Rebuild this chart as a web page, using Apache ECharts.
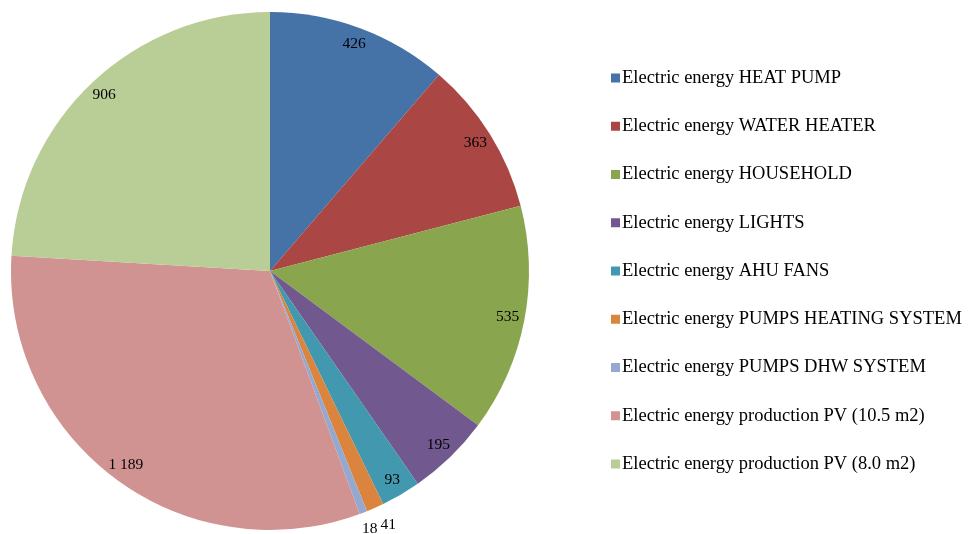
<!DOCTYPE html>
<html>
<head>
<meta charset="utf-8">
<script src="https://cdn.jsdelivr.net/npm/echarts@6/dist/echarts.min.js"></script>
<style>html,body{margin:0;padding:0;background:#fff;}#c{width:973px;height:534px;}</style>
</head>
<body>
<div id="c"></div>
<script>
const categories = [
  'Electric energy HEAT PUMP',
  'Electric energy WATER HEATER',
  'Electric energy HOUSEHOLD',
  'Electric energy LIGHTS',
  'Electric energy AHU FANS',
  'Electric energy PUMPS HEATING SYSTEM',
  'Electric energy PUMPS DHW SYSTEM',
  'Electric energy production PV (10.5 m2)',
  'Electric energy production PV (8.0 m2)'
];
const values = [426, 363, 535, 195, 93, 41, 18, 1189, 906];
const colors = ['#4572A7', '#AA4643', '#89A54E', '#71588F', '#4198AF', '#DB843D', '#93A9CF', '#D19392', '#B9CD96'];
const outsideLabelCats = ['Electric energy PUMPS HEATING SYSTEM', 'Electric energy PUMPS DHW SYSTEM'];

const fmt = v => String(v).replace(/\B(?=(\d{3})+(?!\d))/g, ' ');
const FONT = '"Liberation Serif", "Times New Roman", serif';
const center = [270, 271];
const R = 259;

const mainData = categories.map((c, i) => ({ name: c, value: values[i], itemStyle: { color: colors[i] } }));
const labelData = cats => categories.map((c, i) => ({
  name: c, value: values[i],
  label: { show: cats.indexOf(c) >= 0 }
}));
const insideCats = categories.filter(c => outsideLabelCats.indexOf(c) < 0);
const labelStyle = {
  position: 'inside', color: '#000', fontFamily: FONT, fontSize: 15.5,
  formatter: p => fmt(p.value)
};
const overlay = (data, r, offset) => ({
  type: 'pie', center: center, radius: [0, r], startAngle: 90, clockwise: true,
  silent: true, animation: false, legendHoverLink: false, avoidLabelOverlap: false,
  itemStyle: { color: 'rgba(0,0,0,0)', borderWidth: 0 },
  label: Object.assign({}, labelStyle, { offset: offset || [0, 0] }),
  labelLine: { show: false },
  labelLayout: { hideOverlap: false },
  emphasis: { disabled: true }, z: 5,
  data: data
});

const chart = echarts.init(document.getElementById('c'), null, { renderer: 'canvas' });
chart.setOption({
  animation: false,
  backgroundColor: '#fff',
  legend: {
    orient: 'vertical', left: 606, top: 63,
    itemWidth: 9, itemHeight: 9, itemGap: 28.25,
    icon: 'rect',
    data: categories,
    textStyle: { fontFamily: FONT, fontSize: 18.5, lineHeight: 20, color: '#000', padding: [0, 0, 0, -3] }
  },
  series: [
    {
      type: 'pie', center: center, radius: [0, R], startAngle: 90, clockwise: true,
      animation: false,
      label: { show: false }, labelLine: { show: false },
      itemStyle: { borderWidth: 0 },
      data: mainData
    },
    overlay(labelData(insideCats), 2 * 239),
    overlay(labelData([outsideLabelCats[0]]), 2 * 276, [5, -1]),
    overlay(labelData([outsideLabelCats[1]]), 2 * 274, [0, 0])
  ]
});
</script>
</body>
</html>
